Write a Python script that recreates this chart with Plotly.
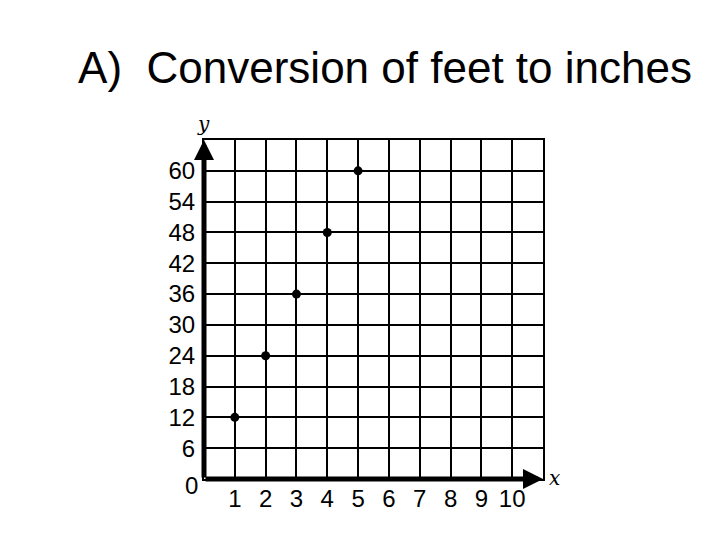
import plotly.graph_objects as go

feet = [1, 2, 3, 4, 5]
inches = [12, 24, 36, 48, 60]
x_ticks = [1, 2, 3, 4, 5, 6, 7, 8, 9, 10]
y_ticks = [6, 12, 18, 24, 30, 36, 42, 48, 54, 60]

FONT = "Liberation Sans, Arial, sans-serif"
OFF = 8  # page body margin

fig = go.Figure()
fig.add_trace(go.Scatter(x=feet, y=inches, mode="markers",
                         marker=dict(color="black", size=9), hoverinfo="skip"))

fig.update_layout(
    width=720, height=540,
    margin=dict(l=204 - OFF, r=177 + OFF, t=140 - OFF, b=61 + OFF),
    paper_bgcolor="white", plot_bgcolor="white",
    showlegend=False,
    title=dict(text="A)  Conversion of feet to inches", x=(385 - OFF) / 720, xanchor="center",
               y=1 - (68 - OFF) / 540, yanchor="middle", yref="container",
               font=dict(family=FONT, size=44, color="black")),
)
fig.update_xaxes(range=[0, 11], tickvals=x_ticks, ticktext=[str(v) for v in x_ticks],
                 showgrid=True, gridcolor="black", gridwidth=2,
                 showline=True, linecolor="black", linewidth=2, mirror=True,
                 zeroline=False, ticks="", ticklabelstandoff=-3,
                 tickfont=dict(family=FONT, size=24, color="black"), fixedrange=True)
fig.update_yaxes(range=[0, 66], tickvals=y_ticks, ticktext=[str(v) for v in y_ticks],
                 showgrid=True, gridcolor="black", gridwidth=2,
                 showline=True, linecolor="black", linewidth=2, mirror=True,
                 zeroline=False, ticks="", ticklabelstandoff=2,
                 tickfont=dict(family=FONT, size=24, color="black"), fixedrange=True)

# Thick axes with arrowheads
fig.add_annotation(x=0, y=66, ax=0, ay=0, xref="x", yref="y", axref="x", ayref="y",
                   showarrow=True, arrowhead=2, arrowsize=0.8, arrowwidth=5,
                   arrowcolor="black", text="", standoff=0, startstandoff=0)
fig.add_annotation(x=11, y=0, ax=0, ay=0, xref="x", yref="y", axref="x", ayref="y",
                   showarrow=True, arrowhead=2, arrowsize=0.8, arrowwidth=5,
                   arrowcolor="black", text="", standoff=0, startstandoff=0)

# Axis letters and origin label
fig.add_annotation(x=0, y=66, xref="x", yref="y", text="<i>y</i>", showarrow=False,
                   yanchor="bottom", yshift=2, xshift=-1,
                   font=dict(family="DejaVu Serif, serif", size=20, color="black"))
fig.add_annotation(x=11, y=0, xref="x", yref="y", text="<i>x</i>", showarrow=False,
                   xanchor="left", xshift=4, yshift=1,
                   font=dict(family="DejaVu Serif, serif", size=20, color="black"))
fig.add_annotation(x=0, y=0, xref="x", yref="y", text="0", showarrow=False,
                   xanchor="right", yanchor="middle", xshift=-4, yshift=-6,
                   font=dict(family=FONT, size=24, color="black"))

fig.write_html("out.html")
